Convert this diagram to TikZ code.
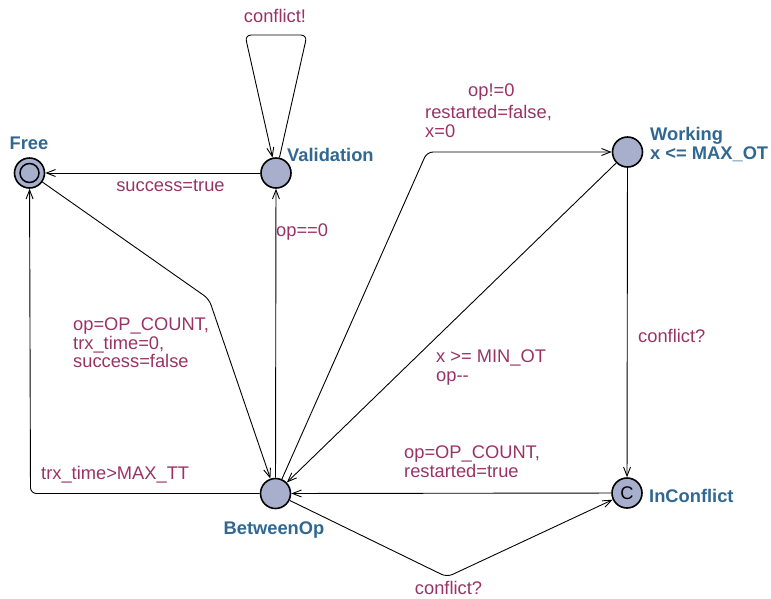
\documentclass[tikz,border=0pt]{standalone}
\usepackage{fontspec}
\setmainfont{Liberation Sans}
\usetikzlibrary{arrows.meta}
\definecolor{locfill}{RGB}{168,175,205}
\definecolor{locname}{RGB}{48,104,146}
\definecolor{lbl}{RGB}{153,51,102}
\tikzset{
  loc/.style={circle,draw=black,line width=1.6pt,fill=locfill,minimum size=30pt,inner sep=0pt},
  locname/.style={text=locname,font=\fontsize{18.3}{18.6}\selectfont\bfseries,inner sep=0pt,align=left},
  elabel/.style={text=lbl,font=\fontsize{18.3}{18.6}\selectfont,inner sep=0pt,align=left},
  edge/.style={draw=black,line width=0.9pt,rounded corners=6pt,-{Straight Barb[length=9pt,width=7pt]}},
}
\begin{document}
\begin{tikzpicture}[x=1pt,y=-1pt]
\useasboundingbox (0,0) rectangle (771,598);
% locations
\node[loc] (free) at (29.5,173) {};
\draw[line width=1.5pt] (free) circle (9.5);
\node[loc] (val) at (276,173) {};
\node[loc] (wrk) at (627.5,152) {};
\node[loc,font=\fontsize{18.3}{18.6}\selectfont] (inc) at (627,493) {C};
\node[loc] (btw) at (275.5,493.5) {};
% location names
\node[locname,anchor=base] (freeN) at (29,149.5) {Free};
\node[locname,anchor=base west] (valN) at (287,161) {Validation};
\node[locname,anchor=north west] (wrkN) at (650,127.5) {Working\\x <= MAX\_OT};
\node[locname,anchor=base west] (incN) at (649,502.3) {InConflict};
\node[locname,anchor=base] (btwN) at (274,534) {BetweenOp};
% corner coordinates
\coordinate (loopR) at (307,35);
\coordinate (loopL) at (245,35);
\coordinate (fbBend) at (209,299);
\coordinate (bfCorner) at (30.5,493.5);
\coordinate (bwCorner) at (427,152);
\coordinate (biBend) at (447,577);
% edges
\draw[edge] (val) -- (free);
\draw[edge] (val) -- (loopR) -- (loopL) -- (val);
\draw[edge] (btw) -- (val);
\draw[edge] (free) -- (fbBend) -- (btw);
\draw[edge] (btw) -- (bfCorner) -- (free);
\draw[edge] (btw) -- (bwCorner) -- (wrk);
\draw[edge] (wrk) -- (btw);
\draw[edge] (wrk) -- (inc);
\draw[edge] (inc) -- (btw);
\draw[edge] (btw) -- (biBend) -- (inc);
% edge labels
\node[elabel,anchor=base] (lConf) at (275,22.5) {conflict!};
\node[elabel,anchor=base] (lSucc) at (170.5,191.5) {success=true};
\node[elabel,anchor=base west] (lOp0) at (276,236.5) {op==0};
\node[elabel,anchor=north west] (lReset) at (73,317.5) {op=OP\_COUNT,\\trx\_time=0,\\success=false};
\node[elabel,anchor=base west] (lTrx) at (41,479.5) {trx\_time>MAX\_TT};
\node[elabel,anchor=base west] (lOpNZ) at (468,96.5) {op!=0};
\node[elabel,anchor=north west] (lRestF) at (425,105) {restarted=false,\\x=0};
\node[elabel,anchor=north west] (lMin) at (436,350) {x >= MIN\_OT\\op-{}-};
\node[elabel,anchor=base west] (lConfQ) at (638,342.3) {conflict?};
\node[elabel,anchor=north west] (lRestT) at (404,446) {op=OP\_COUNT,\\restarted=true};
\node[elabel,anchor=base] (lConfB) at (448.5,594.5) {conflict?};
\end{tikzpicture}
\end{document}
